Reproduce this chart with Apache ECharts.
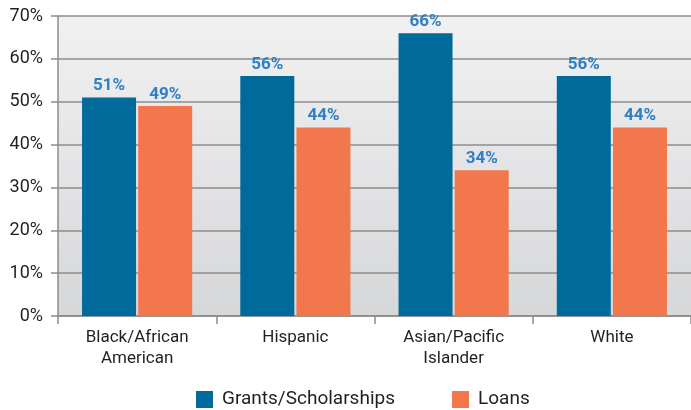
<!DOCTYPE html>
<html>
<head>
<meta charset="utf-8">
<script src="https://cdn.jsdelivr.net/npm/echarts@6/dist/echarts.min.js"></script>
<style>
  html, body { margin: 0; padding: 0; background: #ffffff; }
  #chart { width: 691px; height: 410px; }
</style>
</head>
<body>
<div id="chart"></div>
<script>
// Funding source share by group
const categories = ['Black/African\nAmerican', 'Hispanic', 'Asian/Pacific\nIslander', 'White'];
const grants = [51, 56, 66, 56];
const loans = [49, 44, 34, 44];
const seriesNames = ['Grants/Scholarships', 'Loans'];

const FONT = 'Roboto, "DejaVu Sans", sans-serif';
const labelStyle = {
  show: true,
  position: 'top',
  distance: 3,
  formatter: '{c}%',
  color: '#2f7fc6',
  fontFamily: FONT,
  fontWeight: 'bold',
  fontSize: 17
};

const chart = echarts.init(document.getElementById('chart'));
chart.setOption({
  animation: false,
  grid: {
    left: 58, right: 0, top: 16, bottom: 94,
    show: true,
    borderWidth: 0,
    backgroundColor: new echarts.graphic.LinearGradient(0, 0, 0, 1, [
      { offset: 0, color: '#f1f1f2' },
      { offset: 1, color: '#d6d7d9' }
    ])
  },
  legend: {
    data: seriesNames,
    top: 385,
    left: 191,
    itemWidth: 17,
    itemHeight: 17,
    itemGap: 57,
    icon: 'rect',
    textStyle: { fontFamily: FONT, fontSize: 19, color: '#231f20', padding: [0, 0, 0, 4] }
  },
  xAxis: {
    type: 'category',
    data: categories,
    axisLine: { show: true, lineStyle: { color: '#8c8c8c', width: 1.5 } },
    axisTick: { show: true, length: 8, lineStyle: { color: '#8c8c8c', width: 1.5 } },
    axisLabel: {
      fontFamily: FONT, fontSize: 17, color: '#231f20',
      lineHeight: 21, margin: 11
    }
  },
  yAxis: {
    type: 'value',
    min: 0, max: 70, interval: 10,
    axisLine: { show: true, lineStyle: { color: '#8c8c8c', width: 1.5 } },
    axisTick: { show: true, length: 7, lineStyle: { color: '#8c8c8c', width: 1.5 } },
    splitLine: { show: true, lineStyle: { color: '#8c8c8c', width: 1.5 } },
    axisLabel: {
      formatter: '{value}%',
      fontFamily: FONT, fontSize: 18, color: '#231f20', margin: 15
    }
  },
  series: [
    {
      name: seriesNames[0], type: 'bar', data: grants,
      barWidth: 54, barGap: '4%',
      itemStyle: { color: '#006a9b' },
      label: labelStyle
    },
    {
      name: seriesNames[1], type: 'bar', data: loans,
      barWidth: 54,
      itemStyle: { color: '#f3774d' },
      label: labelStyle
    }
  ]
});
</script>
</body>
</html>
